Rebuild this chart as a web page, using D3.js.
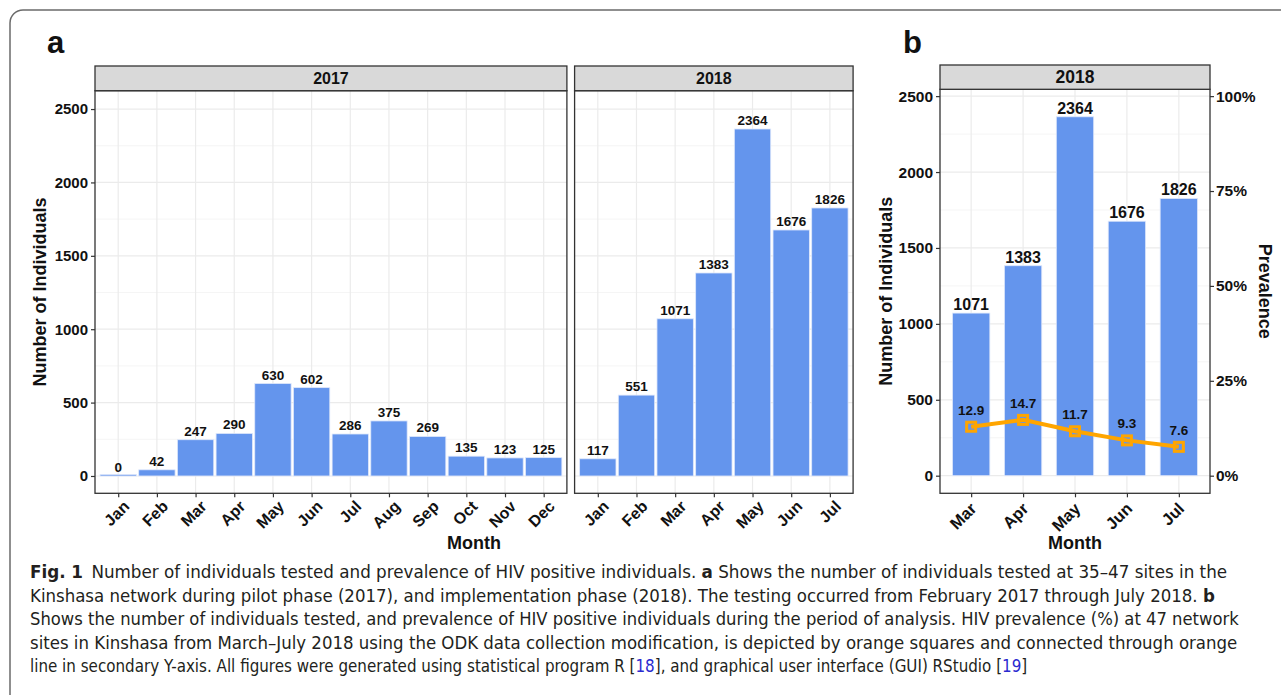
<!DOCTYPE html>
<html><head><meta charset="utf-8">
<script src="https://cdn.jsdelivr.net/npm/d3@7"></script>
<style>body{margin:0;background:#fff;} svg{display:block;font-family:"Liberation Sans",Arial,Helvetica,sans-serif;}</style>
</head><body>
<svg id="c" width="1281" height="695"></svg>
<script>
// ---------------- data ----------------
const months2017 = ["Jan","Feb","Mar","Apr","May","Jun","Jul","Aug","Sep","Oct","Nov","Dec"];
const tested2017 = [0,42,247,290,630,602,286,375,269,135,123,125];
const months2018 = ["Jan","Feb","Mar","Apr","May","Jun","Jul"];
const tested2018 = [117,551,1071,1383,2364,1676,1826];
const monthsB = ["Mar","Apr","May","Jun","Jul"];
const testedB = [1071,1383,2364,1676,1826];
const prevalenceB = [12.9,14.7,11.7,9.3,7.6];
const yTicks = [0,500,1000,1500,2000,2500];
const yMinorTicks = [250,750,1250,1750,2250];
const prevTicks = [0,25,50,75,100];
const facetLabels = ["2017","2018"];

// ---------------- styles ----------------
const BAR = "#6495ED", ORANGE = "#FFA500", GRID = "#ebebeb", BORDER = "#333333", STRIP = "#d9d9d9";
const FONT = "Liberation Sans, Arial, Helvetica, sans-serif";

const svg = d3.select("#c");
svg.append("rect").attr("x",10).attr("y",10).attr("width",1320).attr("height",740)
  .attr("rx",13).attr("fill","none").attr("stroke","#6b6b6b").attr("stroke-width",1.5);

function drawPanel(g, o) {
  const x = d3.scalePoint().domain(o.cats).range([o.x0, o.x1]).padding(0.6);
  const y = o.y;
  const step = x.step();
  g.selectAll(null).data(yMinorTicks).join("line")
    .attr("x1",o.x0).attr("x2",o.x1).attr("y1",d=>y(d)).attr("y2",d=>y(d))
    .attr("stroke","#f2f2f2").attr("stroke-width",0.8);
  g.selectAll(null).data(yTicks).join("line")
    .attr("x1",o.x0).attr("x2",o.x1).attr("y1",d=>y(d)).attr("y2",d=>y(d))
    .attr("stroke",GRID).attr("stroke-width",1.2);
  g.selectAll(null).data(o.cats).join("line")
    .attr("x1",d=>x(d)).attr("x2",d=>x(d)).attr("y1",o.stripBottom).attr("y2",o.bottom)
    .attr("stroke",GRID).attr("stroke-width",1.2);
  const bw = step*o.barW;
  const rows = o.cats.map((c,i)=>({c,v:o.vals[i]}));
  g.selectAll(null).data(rows).join("rect")
    .attr("x",d=>x(d.c)-bw/2).attr("width",bw)
    .attr("y",d=>Math.min(y(d.v), y(0)-1.5)).attr("height",d=>Math.max(1.5,y(0)-y(d.v)))
    .attr("fill",BAR).attr("stroke","#dfe8fb").attr("stroke-width",0.8);
  g.selectAll(null).data(rows).join("text")
    .attr("x",d=>x(d.c)).attr("y",d=>y(d.v)-o.lblGap)
    .attr("text-anchor","middle").style("font-family",FONT).attr("font-weight","bold")
    .attr("font-size",o.lblSize).attr("fill","#111").text(d=>d.v);
  g.append("rect").attr("x",o.x0).attr("y",o.stripBottom).attr("width",o.x1-o.x0)
    .attr("height",o.bottom-o.stripBottom).attr("fill","none").attr("stroke",BORDER).attr("stroke-width",1.3);
  g.append("rect").attr("x",o.x0).attr("y",o.stripTop).attr("width",o.x1-o.x0)
    .attr("height",o.stripBottom-o.stripTop).attr("fill",STRIP).attr("stroke",BORDER).attr("stroke-width",1.3);
  g.append("text").attr("x",(o.x0+o.x1)/2).attr("y",(o.stripTop+o.stripBottom)/2).attr("dy","0.36em")
    .attr("text-anchor","middle").style("font-family",FONT).attr("font-weight","bold")
    .attr("font-size",o.stripSize).attr("fill","#111").text(o.strip);
  const ax = g.append("g").attr("transform",`translate(0,${o.bottom})`)
    .call(d3.axisBottom(x).tickSize(4).tickPadding(0).tickFormat(""));
  ax.select(".domain").remove();
  ax.selectAll(".tick line").attr("stroke",BORDER).attr("stroke-width",1.2);
  g.selectAll(null).data(o.cats).join("text")
    .attr("transform",d=>`translate(${x(d)+o.tickDx},${o.bottom+o.tickDy}) rotate(-45)`)
    .attr("text-anchor","end").attr("dy","0.72em")
    .style("font-family",FONT).attr("font-weight","bold").attr("font-size",o.tickSize).attr("fill","#111")
    .text(d=>d);
  return x;
}

function leftAxis(g, y, x0, size) {
  const ax = g.append("g").attr("transform",`translate(${x0},0)`)
    .call(d3.axisLeft(y).tickValues(yTicks).tickSize(4).tickPadding(3).tickFormat(d3.format("d")));
  ax.select(".domain").remove();
  ax.selectAll(".tick line").attr("stroke",BORDER).attr("stroke-width",1.2);
  ax.selectAll(".tick text").style("font-family",FONT).attr("font-weight","bold")
    .attr("font-size",size).attr("fill","#111");
}

// ---------------- panel a ----------------
const gA = svg.append("g");
const yA = d3.scaleLinear().domain([-118, 2625]).range([493.3, 90.7]);
const unitA = 38.68;
const a0 = 95, a1 = a0 + 12.2*unitA, b0 = a1 + 7.7, b1 = b0 + 7.2*unitA;
const common = {stripTop:66, stripBottom:90.7, bottom:493.3, barW:0.94, lblGap:4, lblSize:13.5,
  stripSize:16, tickSize:16, tickDx:4, tickDy:6};
drawPanel(gA, Object.assign({}, common, {x0:a0, x1:a1, cats:months2017, vals:tested2017, y:yA, strip:facetLabels[0]}));
drawPanel(gA, Object.assign({}, common, {x0:b0, x1:b1, cats:months2018, vals:tested2018, y:yA, strip:facetLabels[1]}));
leftAxis(gA, yA, a0, 15);
gA.append("text").attr("transform",`translate(40,${(90.7+493.3)/2}) rotate(-90)`)
  .attr("text-anchor","middle").attr("dy","0.36em").style("font-family",FONT).attr("font-weight","bold")
  .attr("font-size",18).attr("fill","#111").text("Number of Individuals");
gA.append("text").attr("x",(a0+b1)/2).attr("y",549).attr("text-anchor","middle")
  .style("font-family",FONT).attr("font-weight","bold").attr("font-size",18).attr("fill","#111").text("Month");
gA.append("text").attr("x",47).attr("y",53).style("font-family",FONT).attr("font-weight","bold")
  .attr("font-size",31).attr("fill","#111").text("a");

// ---------------- panel b ----------------
const gB = svg.append("g");
const yB = d3.scaleLinear().domain([-116, 2545]).range([493.3, 89.3]);
const yP = d3.scaleLinear().domain([-116/25, 2545/25]).range([493.3, 89.3]);
const xB = drawPanel(gB, {x0:940, x1:1210, stripTop:65, stripBottom:89.3, bottom:493.3, cats:monthsB, vals:testedB,
  y:yB, strip:facetLabels[1], barW:0.72, lblGap:3, lblSize:16, stripSize:17.5, tickSize:16.5, tickDx:-2, tickDy:8});
leftAxis(gB, yB, 940, 15.5);
const axR = gB.append("g").attr("transform","translate(1210,0)")
  .call(d3.axisRight(yP).tickValues(prevTicks).tickSize(4).tickPadding(2).tickFormat(d=>d+"%"));
axR.select(".domain").remove();
axR.selectAll(".tick line").attr("stroke",BORDER).attr("stroke-width",1.2);
axR.selectAll(".tick text").style("font-family",FONT).attr("font-weight","bold").attr("font-size",15.5).attr("fill","#111");

const ptsB = monthsB.map((m,i)=>({m, p:prevalenceB[i]}));
gB.append("path").datum(ptsB)
  .attr("d", d3.line().x(d=>xB(d.m)).y(d=>yP(d.p)))
  .attr("fill","none").attr("stroke",ORANGE).attr("stroke-width",4);
gB.selectAll(null).data(ptsB).join("rect")
  .attr("x",d=>xB(d.m)-4.5).attr("y",d=>yP(d.p)-4.5).attr("width",9).attr("height",9)
  .attr("fill","none").attr("stroke",ORANGE).attr("stroke-width",3);
gB.selectAll(null).data(ptsB).join("text")
  .attr("x",d=>xB(d.m)).attr("y",d=>yP(d.p)-12).attr("text-anchor","middle")
  .style("font-family",FONT).attr("font-weight","bold").attr("font-size",13.5).attr("fill","#111")
  .text(d=>d.p.toFixed(1));

gB.append("text").attr("transform",`translate(886,${(89.3+493.3)/2}) rotate(-90)`)
  .attr("text-anchor","middle").attr("dy","0.36em").style("font-family",FONT).attr("font-weight","bold")
  .attr("font-size",18).attr("fill","#111").text("Number of Individuals");
gB.append("text").attr("transform",`translate(1265,${(89.3+493.3)/2}) rotate(90)`)
  .attr("text-anchor","middle").attr("dy","0.36em").style("font-family",FONT).attr("font-weight","bold")
  .attr("font-size",18).attr("fill","#111").text("Prevalence");
gB.append("text").attr("x",1075).attr("y",549).attr("text-anchor","middle")
  .style("font-family",FONT).attr("font-weight","bold").attr("font-size",18).attr("fill","#111").text("Month");
gB.append("text").attr("x",903).attr("y",53).style("font-family",FONT).attr("font-weight","bold")
  .attr("font-size",31).attr("fill","#111").text("b");

// ---------------- caption ----------------
const CAP = "Liberation Sans Narrow, DejaVu Sans Condensed, Open Sans, sans-serif";
const capLines = [
  [["Fig. 1", true], ["\u2002Number of individuals tested and prevalence of HIV positive individuals. ", false], ["a", true], [" Shows the number of individuals tested at 35\u201347 sites in the", false]],
  [["Kinshasa network during pilot phase (2017), and implementation phase (2018). The testing occurred from February 2017 through July 2018. ", false], ["b", true]],
  [["Shows the number of individuals tested, and prevalence of HIV positive individuals during the period of analysis. HIV prevalence (%) at 47 network", false]],
  [["sites in Kinshasa from March\u2013July 2018 using the ODK data collection modification, is depicted by orange squares and connected through orange", false]],
  [["line in secondary Y-axis. All figures were generated using statistical program R [", false], ["18", "link"], ["], and graphical user interface (GUI) RStudio [", false], ["19", "link"], ["]", false]]
];
const capEnds = [1228, 1216, 1240, 1238, 1028];
const capX = 30, capY0 = 578, capDy = 23.5;
capLines.forEach((line, i) => {
  const t = svg.append("text").attr("x",0).attr("y",0)
    .style("font-family",CAP).attr("font-size",17.5).attr("fill","#231f20")
    .attr("xml:space","preserve").style("white-space","pre");
  line.forEach(([s, kind]) => {
    const ts = t.append("tspan").text(s);
    if (kind === true) ts.attr("font-weight","bold");
    if (kind === "link") ts.attr("fill","#2a2ad0");
  });
  const w = t.node().getComputedTextLength();
  const sx = (capEnds[i]-capX)/w;
  t.attr("transform",`translate(${capX},${capY0+i*capDy}) scale(${sx},1)`);
});
</script>
</body></html>
